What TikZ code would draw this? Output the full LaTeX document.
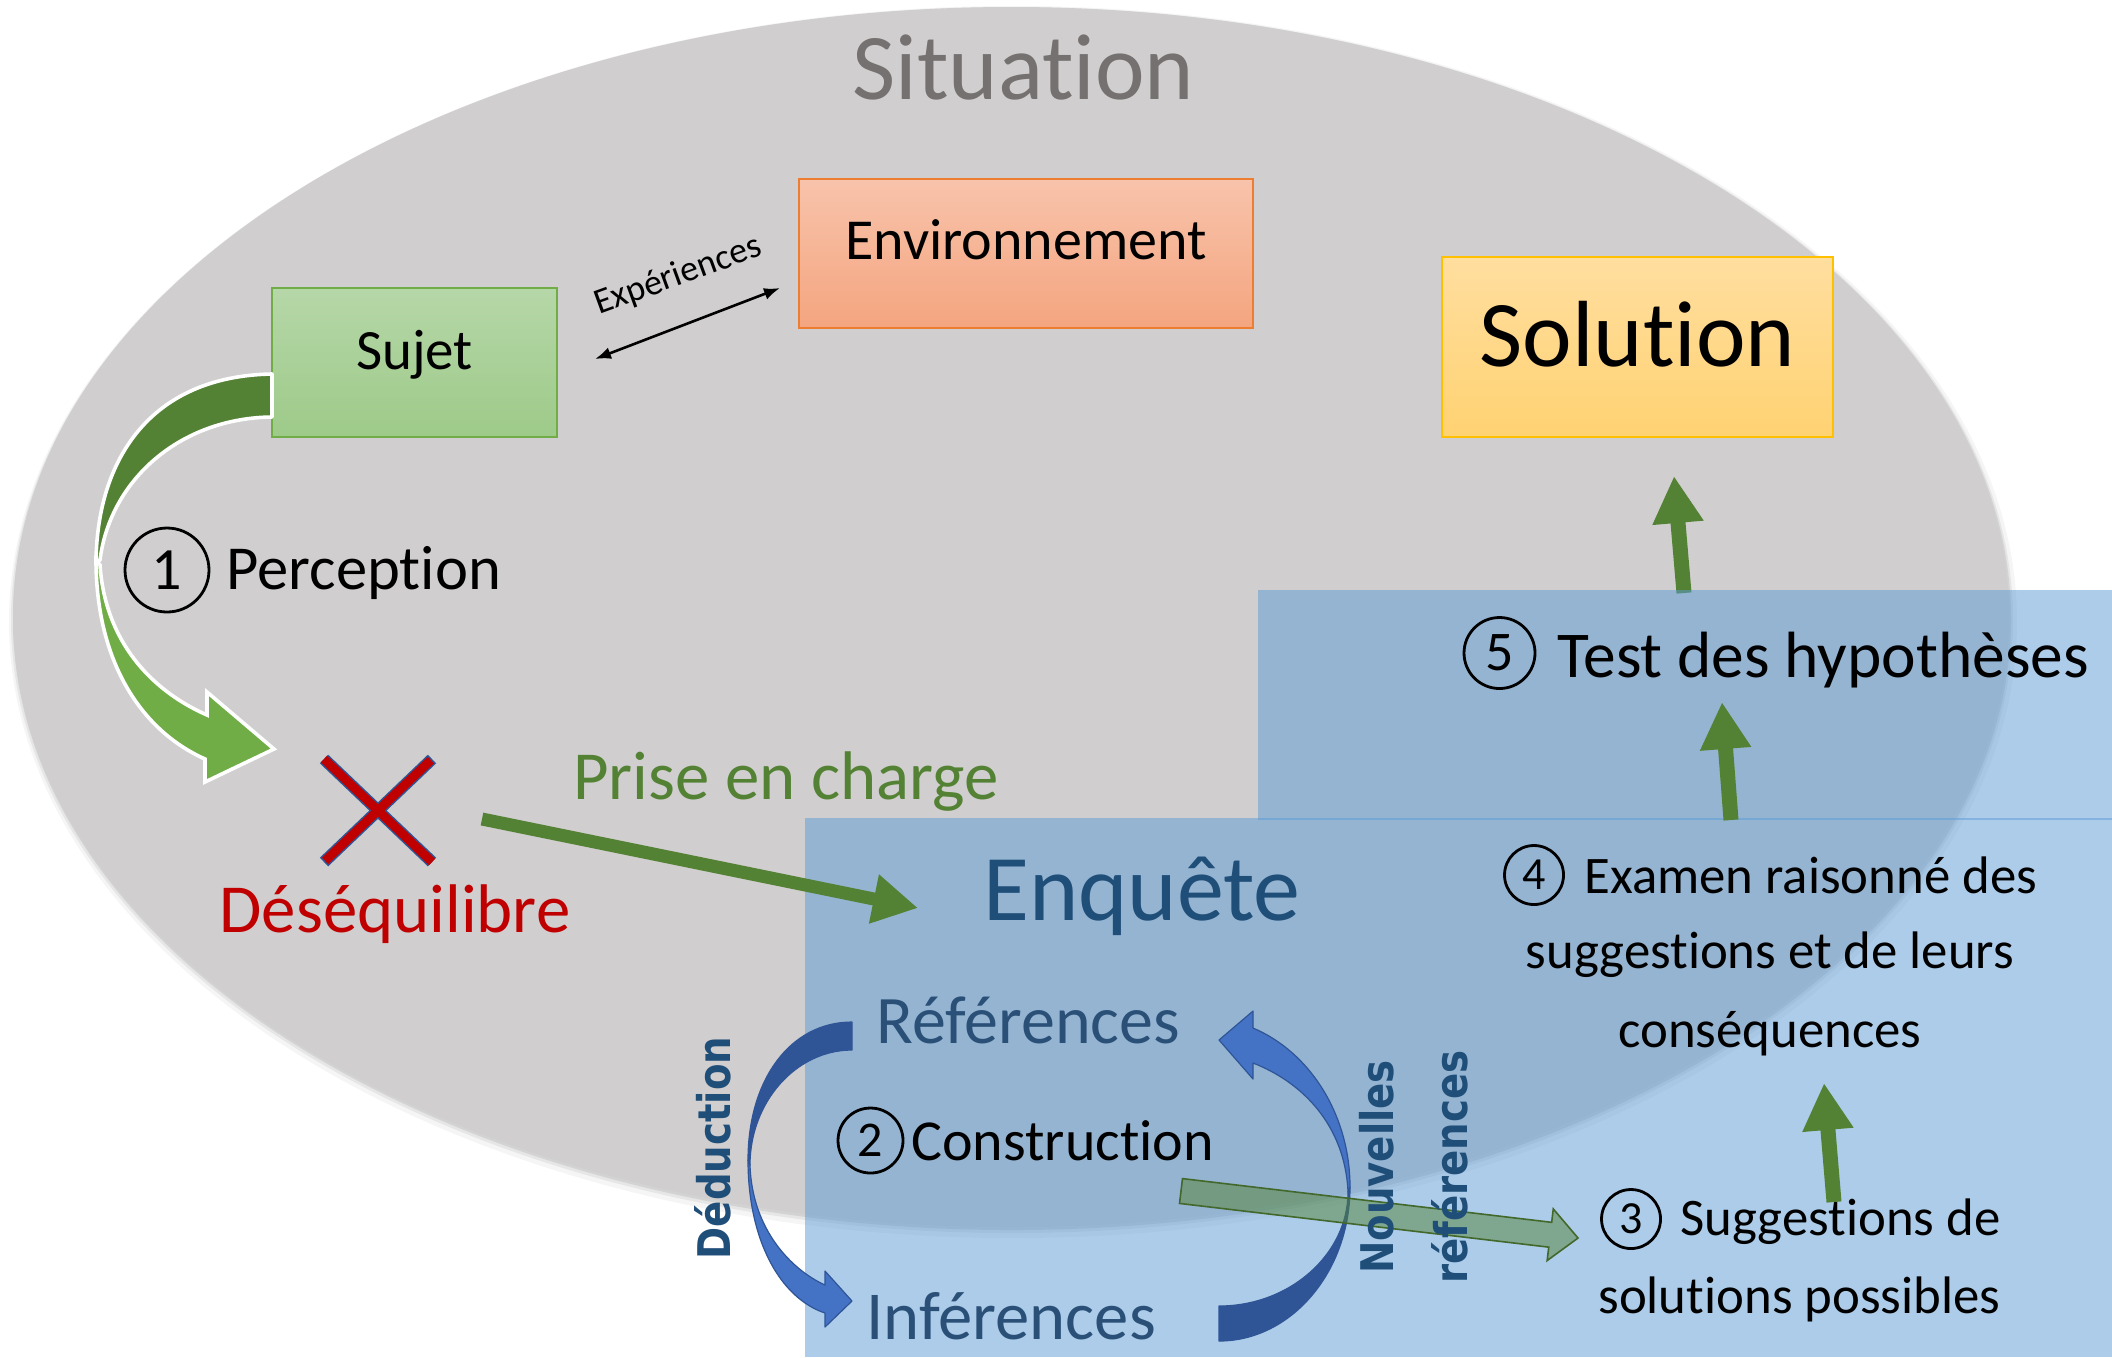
\documentclass[tikz,border=0pt]{standalone}
\usepackage{fontspec}
\setmainfont{Carlito}[RawFeature=-liga]
\newfontfamily\rotfont{DejaVu Sans}
\usetikzlibrary{arrows.meta,calc}
\definecolor{ellgrey}{HTML}{D0CECE}
\definecolor{sitgrey}{HTML}{767171}
\definecolor{bluebox}{HTML}{5B9BD5}
\definecolor{dkgreen}{HTML}{548235}
\definecolor{ltgreen}{HTML}{70AD47}
\definecolor{edgegreen}{HTML}{43682B}
\definecolor{dkblue}{HTML}{1F4E79}
\definecolor{midblue}{HTML}{2F5597}
\definecolor{arrblue}{HTML}{4472C4}
\definecolor{refblue}{HTML}{2A5077}
\definecolor{redx}{HTML}{C00000}
\definecolor{orangeb}{HTML}{ED7D31}
\definecolor{goldb}{HTML}{FFC000}
\definecolor{sujettop}{HTML}{B6D7A8}
\definecolor{sujetbot}{HTML}{9DCA89}
\definecolor{envtop}{HTML}{F8C3AB}
\definecolor{envbot}{HTML}{F4A57F}
\definecolor{soltop}{HTML}{FFDE9F}
\definecolor{solbot}{HTML}{FFD272}
\begin{document}
\begin{tikzpicture}[x=0.5pt,y=-0.5pt,
  txt/.style={inner sep=0pt, anchor=base},
  fs/.style={font=\fontsize{#1}{#1}\selectfont},
  greenarrow/.style={draw=dkgreen, line width=7.5pt, -{Triangle[width=24pt,length=23.5pt]}},
  numcirc/.style={circle, draw=black, line width=1.4pt, inner sep=0pt, minimum size=#1},
  rottxt/.style={inner sep=0pt, anchor=base, rotate=90, text=dkblue, font=\rotfont\bfseries\fontsize{22.5pt}{22.5pt}\selectfont},
  boxnode/.style={line width=0.8pt, inner sep=0pt},
  blueband/.style={draw=midblue, line width=0.6pt, line join=round},
  greenband/.style={draw=white, line width=1.8pt, line join=round}
]
\useasboundingbox (0,0) rectangle (2112,1357);
\fill[white] (0,0) rectangle (2112,1357);

% ---- Situation ellipse with soft shadow
\fill[black,opacity=0.04] (1013,622) ellipse [x radius=502pt, y radius=308pt];
\fill[black,opacity=0.06] (1012,620) ellipse [x radius=500.5pt, y radius=306.5pt];
\fill[black,opacity=0.08] (1012,619) ellipse [x radius=499.5pt, y radius=305.5pt];
\fill[ellgrey] (1011,617) ellipse [x radius=499pt, y radius=305pt];

\node[txt, fs=47pt, text=sitgrey] (situation) at (1023.5,99) {Situation};

% ---- Boxes (text baseline placed with text height / depth)
\node[boxnode, draw=ltgreen, top color=sujettop, bottom color=sujetbot, minimum width=142.5pt, minimum height=74.5pt,
      fs=28.5pt, text height=20pt, text depth=13.5pt] (sujetbox) at (414.5,362.5) {Sujet};

\node[boxnode, draw=orangeb, top color=envtop, bottom color=envbot, minimum width=227pt, minimum height=74.5pt,
      fs=29pt, text height=20pt, text depth=14.5pt] (envbox) at (1026,253.5) {Environnement};

\node[boxnode, draw=goldb, top color=soltop, bottom color=solbot, minimum width=195.5pt, minimum height=90pt,
      fs=47pt, text height=33pt, text depth=14pt] (solbox) at (1637.5,347) {Solution};

% ---- Expériences
\node[inner sep=0pt, fs=18pt, rotate=20] (exp) at (678,276) {Expériences};
\coordinate (e1) at (595,359);
\coordinate (e2) at (780,288);
\draw[line width=1.3pt, {Latex[length=8pt,width=6pt]}-{Latex[length=8pt,width=6pt]}] (e1) -- (e2);

% ---- Perception curved arrow
\filldraw[fill=dkgreen, greenband]
  (272,374) .. controls (150,376) and (97,460) .. (96,562)
  -- (100,560) .. controls (110,480) and (180,418) .. (272,417) -- cycle;
\filldraw[fill=ltgreen, greenband, line join=miter]
  (96,560) .. controls (96,660) and (140,730) .. (205,759)
  -- (205,782) -- (274,749) -- (207,692) -- (207,715)
  .. controls (150,690) and (105,640) .. (100,565) -- cycle;

\node[numcirc=42pt, fs=30pt] (c1) at (167,570) {1};
\node[txt, anchor=base west, fs=31.3pt] (perception) at (226,589) {Perception};

% ---- Red cross
\draw[midblue, line width=6pt] (324,759) -- (432,862) (432,759) -- (324,862);
\draw[redx, line width=4.5pt, shorten <=0.8pt, shorten >=0.8pt] (324,759) -- (432,862) (432,759) -- (324,862);
\node[txt, fs=34.4pt, text=redx] (deseq) at (395,932) {Déséquilibre};

\node[txt, fs=34.4pt, text=dkgreen] (prise) at (786,799) {Prise en charge};

% ---- arrow 5 -> Solution (under the blue panel)
\coordinate (a5s) at (1684,593);
\coordinate (a5t) at (1674,476);
\draw[greenarrow] (a5s) -- (a5t);

% ---- Blue panels
\fill[bluebox, opacity=0.5] (805,818) rectangle (2112,1357);
\fill[bluebox, opacity=0.5] (1258,590) rectangle (2112,820);

% ---- Prise en charge arrow
\coordinate (pcs) at (482,819);
\coordinate (pct) at (918,908);
\draw[greenarrow, line width=6.5pt, -{Triangle[width=23.5pt,length=22.5pt]}] (pcs) -- (pct);

\node[txt, fs=47pt, text=dkblue] (enquete) at (1142,920) {Enquête};

% ---- Deduction arrow (left)
\filldraw[fill=midblue, blueband]
  (852,1022) .. controls (790,1022) and (748,1080) .. (748,1160)
  -- (750,1165) .. controls (750,1102) and (796,1050) .. (852,1050) -- cycle;
\filldraw[fill=arrblue, blueband]
  (748,1160) .. controls (748,1240) and (780,1298) .. (825,1313)
  -- (825,1327) -- (852,1301) -- (825,1271) -- (825,1285)
  .. controls (792,1270) and (752,1230) .. (750,1165) -- cycle;

% ---- Nouvelles references arrow (right)
\filldraw[fill=midblue, blueband]
  (1350,1187) .. controls (1350,1272) and (1291,1341) .. (1219,1341)
  -- (1219,1306) .. controls (1290,1306) and (1348,1254) .. (1348,1192) -- cycle;
\filldraw[fill=arrblue, blueband]
  (1253,1028) .. controls (1310,1052) and (1350,1115) .. (1350,1187)
  -- (1348,1192) .. controls (1345,1125) and (1302,1082) .. (1253,1063)
  -- (1253,1079) -- (1219,1040) -- (1253,1011) -- cycle;

% ---- Construction -> Suggestions translucent arrow
\coordinate (gs) at (1181,1191);
\coordinate (gt) at (1578,1238);
\coordinate (gh) at ($(gt)!14pt!(gs)$);
\filldraw[fill=dkgreen, fill opacity=0.5, draw=edgegreen, line width=0.8pt, line join=miter]
  ($(gs)!6.25pt!90:(gt)$) -- ($(gh)!6.25pt!90:(gt)$) -- ($(gh)!13pt!90:(gt)$) -- (gt)
  -- ($(gh)!13pt!-90:(gt)$) -- ($(gh)!6.25pt!-90:(gt)$) -- ($(gs)!6.25pt!-90:(gt)$) -- cycle;

% ---- Enquete texts
\node[txt, anchor=base west, fs=34pt, text=refblue] (refs) at (876,1043) {Références};
\node[txt, anchor=base west, fs=34.3pt, text=refblue] (infs) at (866,1339) {Inférences};
\node[numcirc=32.5pt, fs=25pt] (c2) at (870.5,1140.5) {2};
\node[txt, anchor=base west, fs=29pt] (constr) at (911,1160) {Construction};

\node[rottxt] (deduc) at (730,1148) {\scalebox{0.86}[1]{Déduction}};
\node[rottxt] (nouv) at (1393,1167) {\scalebox{0.86}[1]{Nouvelles}};
\node[rottxt] (nrefs) at (1467,1167) {\scalebox{0.86}[1]{références}};

% ---- Steps 3, 4, 5
\node[numcirc=29.5pt, fs=23pt] (c3) at (1631,1219) {3};
\node[txt, anchor=base west, fs=26.4pt] (sugg1) at (1680,1235) {Suggestions de};
\node[txt, anchor=base west, fs=26.4pt] (sugg2) at (1598,1313) {solutions possibles};

\node[numcirc=29.5pt, fs=23pt] (c4) at (1534,875) {4};
\node[txt, anchor=base west, fs=26.4pt] (exam1) at (1584,893) {Examen raisonné des};
\node[txt, fs=26.4pt] (exam2) at (1770,968) {suggestions et de leurs};
\node[txt, fs=26.4pt] (exam3) at (1770,1047) {conséquences};

\node[numcirc=35.5pt, fs=28pt] (c5) at (1499.5,653) {5};
\node[txt, anchor=base west, fs=32.7pt] (test) at (1557,677) {Test des hypothèses};

% ---- vertical green arrows
\coordinate (a4s) at (1731,820);
\coordinate (a4t) at (1722,702);
\draw[greenarrow] (a4s) -- (a4t);
\coordinate (a3s) at (1834,1202);
\coordinate (a3t) at (1824,1083);
\draw[greenarrow] (a3s) -- (a3t);
\end{tikzpicture}
\end{document}
